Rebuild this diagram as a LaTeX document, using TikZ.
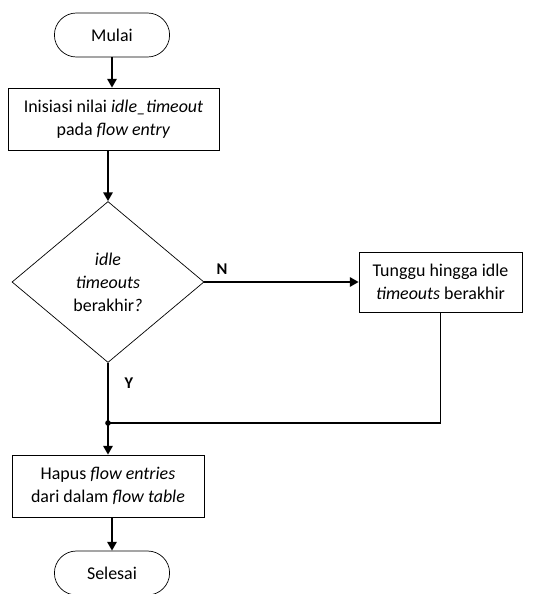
\documentclass[tikz,border=0pt]{standalone}
\usepackage{fontspec}
\setmainfont{Carlito}
\usetikzlibrary{shapes.geometric,shapes.misc,arrows.meta}

\begin{document}
\begin{tikzpicture}[x=0.03cm,y=-0.03cm,
    font=\fontsize{15.3}{19.5}\selectfont,
    term/.style={rounded rectangle,draw,line width=0.6pt,minimum width=3.69cm,minimum height=1.32cm},
    proc/.style={rectangle,draw,line width=0.6pt,align=center,minimum height=1.86cm,inner sep=2pt},
    dec/.style={diamond,draw,line width=0.6pt,align=center,inner sep=0pt,minimum width=5.76cm,minimum height=4.83cm},
    flow/.style={draw,line width=1.6pt,-{Triangle[length=7.5pt,width=8pt]}},
    line/.style={draw,line width=1.6pt},
    lbl/.style={font=\fontsize{14}{17}\selectfont\bfseries}]

  \useasboundingbox (0,0) rectangle (541,594);

  \node[term] (mulai) at (112,35) {Mulai};
  \node[proc,minimum width=6.33cm] (init) at (113.5,119) {Inisiasi nilai \textit{idle\_timeout}\\pada \textit{flow entry}};
  \node[dec] (cek) at (108,282) {\textit{idle}\\\textit{timeouts}\\berakhir\textit{?}};
  \node[proc,minimum width=4.89cm,minimum height=1.8cm] (tunggu) at (440.5,282) {Tunggu hingga idle\\\textit{timeouts} berakhir};
  \coordinate (gabung) at (108,423);
  \node[proc,minimum width=5.76cm] (hapus) at (108,486) {Hapus \textit{flow entries}\\dari dalam \textit{flow table}};
  \node[term] (selesai) at (112,573) {Selesai};

  \node[lbl] (n) at (222,269) {N};
  \node[lbl] (y) at (129,383) {Y};

  \path[flow] (mulai.south) -- (mulai.south |- init.north);
  \path[flow] (cek.north |- init.south) -- (cek.north);
  \path[flow] (cek.east) -- (cek.east -| tunggu.west);
  \path[line] (cek.south) -- (gabung);
  \path[line] (tunggu.south) |- (gabung);
  \fill (gabung) circle[radius=2.4pt];
  \path[flow] (gabung) -- (hapus.north);
  \path[flow] (selesai.north |- hapus.south) -- (selesai.north);

\end{tikzpicture}
\end{document}
